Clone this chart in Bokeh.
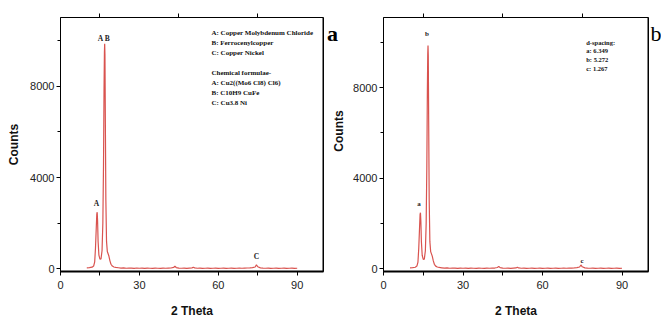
import math
from bokeh.plotting import figure
from bokeh.models import ColumnDataSource, FixedTicker, LinearAxis, Label, Span, Range1d
from bokeh.layouts import row
from bokeh.embed import file_html
from bokeh.resources import INLINE
from bokeh.core.properties import value

# ---- data ----
two_theta = [10.0, 11.0, 12.0, 12.6, 13.0, 13.3, 13.6, 13.8, 13.95, 14.1, 14.3, 14.6,
             15.0, 15.4, 15.8, 16.1, 16.35, 16.55, 16.7, 16.8, 16.9, 17.05, 17.25,
             17.5, 17.8, 18.1, 18.4, 18.8, 19.2, 19.7, 20.3, 21.0,
             22, 23, 24, 25, 26, 27, 28, 29, 30, 31, 32, 33, 34, 35, 36, 37, 38, 39,
             40, 41, 42, 43, 43.5, 44, 45, 46, 47, 48, 49, 50, 50.5, 51, 52, 53, 54,
             55, 56, 57, 58, 59, 60, 61, 62, 63, 64, 65, 66, 67, 68, 69, 70, 71, 72,
             73, 74, 74.5, 75, 76, 77, 78, 79, 80, 81, 82, 83, 84, 85, 86, 87, 88, 89, 90]
counts = [40, 50, 70, 120, 300, 900, 1800, 2400, 2480, 2100, 1200, 600,
          420, 430, 800, 2000, 4500, 7800, 9500, 9860, 9400, 6500, 3000,
          1200, 760, 660, 560, 350, 200, 120, 80, 60,
          45, 30, 40, 25, 35, 30, 20, 35, 25, 30, 20, 30, 25, 20, 30, 25, 20, 30,
          25, 30, 35, 60, 110, 55, 30, 25, 30, 20, 30, 40, 70, 40, 25, 30, 20,
          25, 30, 20, 25, 30, 20, 25, 30, 20, 25, 30, 20, 25, 30, 25, 30, 35, 40,
          50, 80, 170, 90, 40, 30, 25, 30, 20, 25, 30, 20, 25, 30, 20, 25, 30, 20, 25]

x_major = [0, 30, 60, 90]
x_minor = [15, 45, 75]
y_major = [0, 4000, 8000]
y_minor = [2000, 6000, 10000]

peak_text_a = ["A B", "A", "C"]
peak_x_a = [16.5, 13.7, 74.5]
peak_y_a = [10100, 2870, 540]

peak_text_b = ["b", "a", "c"]
peak_x_b = [16.4, 13.4, 74.9]
peak_y_b = [10366, 2870, 364]

names_a = ["A: Copper Molybdenum Chloride", "B: Ferrocenylcopper", "C: Copper Nickel"]
formulae_a = ["Chemical formulae-", "A: Cu2((Mo6 Cl8) Cl6)", "B: C10H9 CuFe", "C: Cu3.8 Ni"]
notes_b = ["d-spacing:", "a: 6.349", "b: 5.272", "c: 1.267"]

LINE = "#d9534f"
SERIF = "Liberation Serif"
SANS = "Liberation Sans"
H = 320


def make_panel(width, mbl, mbr, mbt, frame_h, y_top, ylabel):
    p = figure(width=width, height=H, x_range=Range1d(0, 100), y_range=Range1d(-118, y_top),
               output_backend="svg", toolbar_location=None,
               min_border_left=mbl, min_border_right=mbr, min_border_top=mbt,
               min_border_bottom=H - mbt - frame_h)
    p.xgrid.visible = False
    p.ygrid.visible = False
    p.outline_line_color = "black"
    p.outline_line_width = 1
    p.background_fill_color = "white"
    p.border_fill_color = "white"

    xa = p.xaxis[0]
    xa.ticker = FixedTicker(ticks=x_major, minor_ticks=x_minor)
    xa.axis_label = "2 Theta"
    xa.axis_label_text_font = SANS
    xa.axis_label_text_font_style = "bold"
    xa.axis_label_text_font_size = "12px"
    xa.axis_label_text_color = "#111111"
    xa.axis_label_standoff = 12
    xa.major_label_text_font = SANS
    xa.major_label_text_font_size = "11px"
    xa.major_label_text_color = "#222222"
    xa.major_label_standoff = 5
    xa.axis_line_width = 2
    xa.major_tick_out = 4
    xa.major_tick_in = 0
    xa.minor_tick_out = 4
    xa.minor_tick_in = 0

    ya = p.yaxis[0]
    ya.ticker = FixedTicker(ticks=y_major, minor_ticks=y_minor)
    if ylabel:
        ya.axis_label = "Counts"
        ya.axis_label_text_font = SANS
        ya.axis_label_text_font_style = "bold"
        ya.axis_label_text_font_size = "12px"
        ya.axis_label_text_color = "#111111"
        ya.axis_label_standoff = 6
    ya.major_label_text_font = SANS
    ya.major_label_text_font_size = "11px"
    ya.major_label_text_color = "#222222"
    ya.major_label_standoff = 2
    ya.major_tick_out = 4
    ya.major_tick_in = 0
    ya.minor_tick_out = 3
    ya.minor_tick_in = 0

    top = LinearAxis(ticker=FixedTicker(ticks=x_minor, minor_ticks=[]),
                     major_label_text_color=None, major_label_standoff=0,
                     axis_line_color=None, major_tick_out=4, major_tick_in=0)
    p.add_layout(top, "above")

    p.add_layout(Span(location=100, dimension="height", line_color="black", line_width=2))

    p.line(two_theta, counts, line_color=LINE, line_width=1.2)
    return p


def make_strip(width):
    s = figure(width=width, height=H, x_range=Range1d(0, width), y_range=Range1d(0, H),
               output_backend="svg", toolbar_location=None,
               x_axis_location=None, y_axis_location=None,
               min_border_left=0, min_border_right=0, min_border_top=0, min_border_bottom=0)
    s.xgrid.visible = False
    s.ygrid.visible = False
    s.outline_line_color = None
    s.background_fill_color = "white"
    s.border_fill_color = "white"
    return s


# ---- panel a ----
p1 = make_panel(325, 60, 2, 17, 254, 11010, True)
p1.text(x=peak_x_a, y=peak_y_a, text=peak_text_a, text_font=value(SERIF),
        text_font_style="bold", text_font_size="7.5px", text_align="center",
        text_baseline="middle", text_color="#222222")
rows_a = [0, 1, 2]
rows_f = [4, 5, 6, 7]
src_a = ColumnDataSource(dict(x=[57.4] * 7,
                              y=[10350 - 443 * i for i in rows_a + rows_f],
                              t=names_a + formulae_a))
p1.text(x="x", y="y", text="t", source=src_a, text_font=value(SERIF),
        text_font_style="bold", text_font_size="7px", text_align="left",
        text_baseline="middle", text_color="#111111")

# ---- strip between panels: panel letter "a" and y-axis title of panel b ----
sa = make_strip(20)
sa.add_layout(Label(x=7, y=H - 20.5, text="a", text_font=SERIF, text_font_style="bold",
                    text_font_size="22px", text_color="black", text_align="center",
                    text_baseline="alphabetic"))
sa.add_layout(Label(x=13, y=H - 143, text="Counts", text_font=SANS, text_font_style="bold",
                    text_font_size="12px", text_color="#111111", text_align="center",
                    text_baseline="middle", angle=math.pi / 2))

# ---- panel b ----
p2 = make_panel(305, 38, 2, 15, 256, 11098, False)
p2.text(x=peak_x_b, y=peak_y_b, text=peak_text_b, text_font=value(SERIF),
        text_font_style="bold", text_font_size="7px", text_align="center",
        text_baseline="middle", text_color="#222222")
src_b = ColumnDataSource(dict(x=[76.5] * len(notes_b),
                              y=[10000 - 380 * i for i in range(len(notes_b))],
                              t=notes_b))
p2.text(x="x", y="y", text="t", source=src_b, text_font=value(SERIF),
        text_font_style="bold", text_font_size="6.5px", text_align="left",
        text_baseline="middle", text_color="#111111")

sb = make_strip(11)
sb.add_layout(Label(x=5.5, y=H - 20, text="b", text_font=SERIF, text_font_style="normal",
                    text_font_size="22px", text_color="black", text_align="center",
                    text_baseline="alphabetic"))

layout = row(p1, sa, p2, sb)
open("out.html", "w").write(file_html(layout, INLINE))
